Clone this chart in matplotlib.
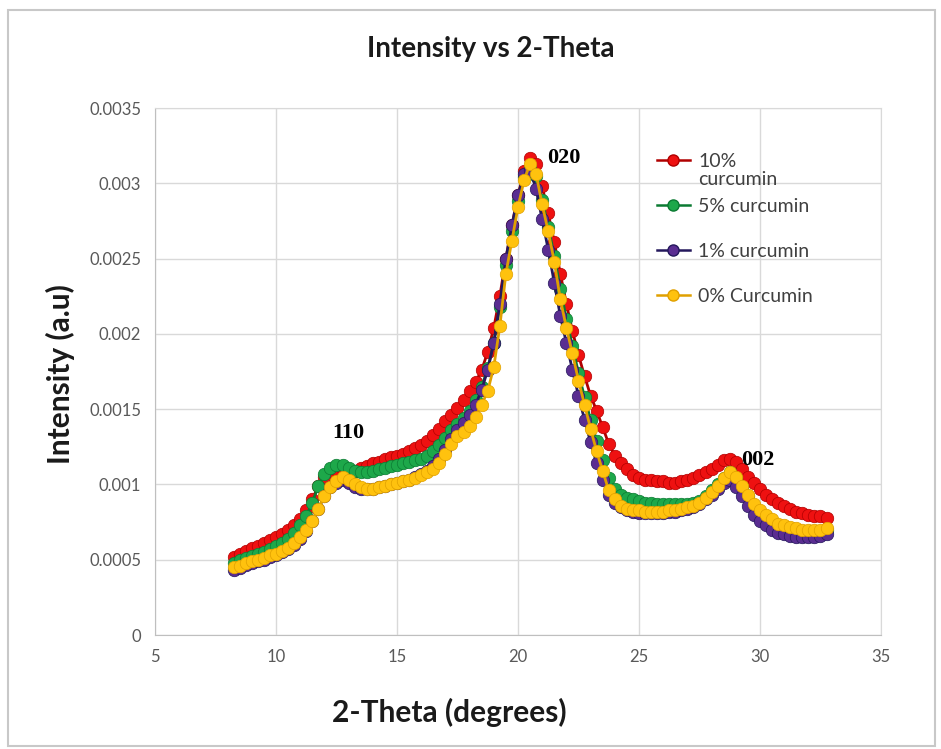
import numpy as np
import matplotlib.pyplot as plt
from matplotlib.lines import Line2D
from matplotlib.patches import Rectangle

# 2-theta sampling (degrees), one reading every 0.25 deg
two_theta = np.arange(8.25, 32.76, 0.25)

# intensities, in units of 1e-4 a.u.
curc_10 = [
    5.2, 5.4, 5.6, 5.8, 5.9, 6.1, 6.3, 6.5, 6.7, 7.0,
    7.3, 7.7, 8.3, 9.0, 9.9, 10.5, 10.9, 11.0, 11.0, 10.9,
    10.9, 11.1, 11.2, 11.4, 11.5, 11.7, 11.8, 11.9, 12.0, 12.2,
    12.4, 12.6, 12.9, 13.3, 13.7, 14.2, 14.6, 15.1, 15.6, 16.2,
    16.8, 17.6, 18.8, 20.4, 22.5, 25.0, 27.2, 29.2, 30.8, 31.7,
    31.3, 29.8, 28.0, 26.1, 24.0, 22.0, 20.2, 18.6, 17.2, 15.9,
    14.9, 13.8, 12.7, 11.9, 11.4, 11.0, 10.6, 10.4, 10.3, 10.3,
    10.2, 10.2, 10.1, 10.1, 10.2, 10.3, 10.4, 10.6, 10.8, 11.0,
    11.3, 11.6, 11.7, 11.5, 11.0, 10.5, 10.1, 9.7, 9.3, 9.0,
    8.8, 8.6, 8.4, 8.2, 8.1, 8.0, 7.9, 7.9, 7.8,
]
curc_5 = [
    4.8, 4.95, 5.1, 5.25, 5.35, 5.5, 5.7, 5.9, 6.1, 6.4,
    6.8, 7.3, 7.9, 8.8, 9.9, 10.7, 11.1, 11.3, 11.3, 11.1,
    10.9, 10.8, 10.8, 10.9, 11.0, 11.1, 11.2, 11.3, 11.4, 11.5,
    11.6, 11.7, 11.9, 12.2, 12.6, 13.1, 13.6, 14.0, 14.4, 14.9,
    15.6, 16.5, 17.7, 19.4, 21.8, 24.6, 26.8, 28.8, 30.4, 31.0,
    30.5, 28.9, 27.1, 25.2, 23.0, 21.0, 19.2, 17.4, 15.8, 14.3,
    12.9, 11.6, 10.4, 9.7, 9.3, 9.1, 9.0, 8.9, 8.8, 8.8,
    8.7, 8.7, 8.7, 8.7, 8.7, 8.7, 8.8, 8.9, 9.2, 9.6,
    10.0, 10.4, 10.8, 10.4, 9.8, 9.2, 8.6, 8.2, 7.9, 7.6,
    7.3, 7.2, 7.1, 7.0, 6.9, 6.9, 6.9, 6.9, 7.0,
]
curc_1 = [
    4.3, 4.45, 4.65, 4.8, 4.9, 5.0, 5.2, 5.3, 5.5, 5.7,
    6.0, 6.4, 6.9, 7.6, 8.4, 9.2, 9.8, 10.1, 10.3, 10.1,
    9.8, 9.7, 9.7, 9.7, 9.8, 9.9, 10.0, 10.1, 10.2, 10.3,
    10.5, 10.7, 10.9, 11.2, 11.7, 12.3, 13.0, 13.6, 14.1, 14.6,
    15.3, 16.3, 17.6, 19.4, 22.0, 25.0, 27.2, 29.2, 30.6, 30.9,
    29.6, 27.6, 25.6, 23.4, 21.2, 19.4, 17.6, 15.9, 14.3, 12.8,
    11.4, 10.3, 9.3, 8.8, 8.5, 8.3, 8.2, 8.1, 8.1, 8.1,
    8.1, 8.1, 8.2, 8.2, 8.3, 8.4, 8.5, 8.7, 9.0, 9.3,
    9.7, 10.1, 10.3, 9.8, 9.2, 8.6, 8.0, 7.6, 7.3, 7.0,
    6.8, 6.7, 6.6, 6.5, 6.5, 6.5, 6.5, 6.6, 6.7,
]
curc_0 = [
    4.5, 4.6, 4.8, 4.9, 5.0, 5.1, 5.3, 5.4, 5.6, 5.8,
    6.1, 6.5, 7.0, 7.6, 8.4, 9.2, 9.8, 10.2, 10.5, 10.3,
    10.0, 9.8, 9.7, 9.7, 9.8, 9.9, 10.0, 10.1, 10.2, 10.3,
    10.4, 10.6, 10.8, 11.0, 11.4, 12.0, 12.7, 13.2, 13.5, 13.9,
    14.5, 15.3, 16.2, 17.8, 20.5, 24.0, 26.2, 28.4, 30.2, 31.3,
    30.6, 28.6, 26.8, 24.8, 22.3, 20.4, 18.7, 16.9, 15.3, 13.7,
    12.2, 10.9, 9.6, 9.0, 8.6, 8.4, 8.3, 8.3, 8.2, 8.2,
    8.2, 8.2, 8.3, 8.3, 8.4, 8.5, 8.6, 8.8, 9.1, 9.5,
    9.9, 10.4, 10.8, 10.5, 9.9, 9.3, 8.7, 8.3, 8.0, 7.7,
    7.4, 7.3, 7.2, 7.1, 7.0, 7.0, 7.0, 7.0, 7.1,
]

labels = ["10%\ncurcumin", "5% curcumin", "1% curcumin", "0% Curcumin"]
series = [curc_10, curc_5, curc_1, curc_0]
line_colors = ["#B00000", "#0B7A32", "#24185C", "#E0A000"]
face_colors = ["#EE1111", "#1DA84A", "#5A2D91", "#FFC20E"]

peaks = [("110", 13.0, 0.00134), ("020", 21.9, 0.00317), ("002", 29.9, 0.00116)]

plt.rcParams["font.family"] = ["Lato", "DejaVu Sans"]

fig = plt.figure(figsize=(9.41, 7.49), dpi=100)
ax = fig.add_axes([0.1647, 0.1522, 0.7715, 0.7036])

for vals, lc, fc in zip(series, line_colors, face_colors):
    ax.plot(two_theta, np.array(vals) * 1e-4, color=lc, lw=2,
            marker="o", markersize=9, markerfacecolor=fc,
            markeredgecolor=lc, markeredgewidth=0.5)

ax.set_xlim(5, 35)
ax.set_ylim(0, 0.0035)
ax.set_xticks(np.arange(5, 36, 5))
ax.set_yticks(np.arange(0, 0.00351, 0.0005))
ax.set_yticklabels(["0", "0.0005", "0.001", "0.0015", "0.002",
                    "0.0025", "0.003", "0.0035"])
ax.tick_params(length=0, labelsize=12, colors="#595959", pad=10)
ax.grid(True, color="#D9D9D9", lw=1)
ax.set_axisbelow(True)
for s in ax.spines.values():
    s.set_color("#D9D9D9")
ax.spines["left"].set_color("#BFBFBF")
ax.spines["bottom"].set_color("#BFBFBF")

for txt, x, y in peaks:
    ax.text(x, y, txt, family="Liberation Serif", fontweight="bold",
            fontsize=16, ha="center", va="center")

# legend drawn like the spreadsheet one: handle on the first text line
for i, (lab, lc, fc) in enumerate(zip(labels, line_colors, face_colors)):
    y = 0.901 - i * 0.0855
    ax.add_line(Line2D([0.691, 0.737], [y, y], transform=ax.transAxes,
                       color=lc, lw=1.8))
    ax.add_line(Line2D([0.714], [y], transform=ax.transAxes, marker="o",
                       markersize=8, markerfacecolor=fc, markeredgecolor=lc))
    ax.text(0.748, y + 0.014, lab, transform=ax.transAxes, fontsize=14,
            color="#404040", ha="left", va="top", linespacing=1.05)

fig.text(0.521, 0.935, "Intensity vs 2-Theta", ha="center", va="center",
         fontsize=20, fontweight="bold", color="#1A1A1A")
fig.text(0.478, 0.049, "2-Theta (degrees)", ha="center", va="center",
         fontsize=21.5, fontweight="bold", color="#1A1A1A")
fig.text(0.064, 0.500, "Intensity (a.u)", ha="center", va="center",
         rotation=90, fontsize=21.5, fontweight="bold", color="#1A1A1A")

fig.patches.append(Rectangle((0.008, 0.004), 0.986, 0.982, transform=fig.transFigure,
                             fill=False, edgecolor="#C8C8C8", lw=1.5))

fig.savefig("out.png", dpi=100)
